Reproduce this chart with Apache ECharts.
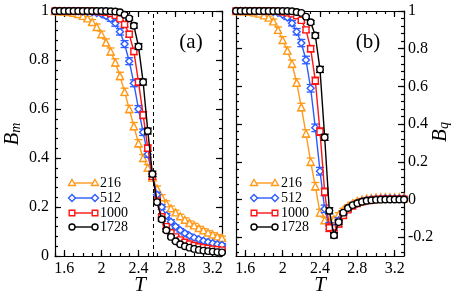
<!DOCTYPE html>
<html>
<head>
<meta charset="utf-8">
<script src="https://cdn.jsdelivr.net/npm/echarts@6/dist/echarts.min.js"></script>
<style>
html,body{margin:0;padding:0;background:#fff;}
#chart{width:458px;height:298px;}
</style>
</head>
<body>
<div id="chart"></div>
<script>
// ---------- data ----------
var T = [1.50,1.55,1.60,1.65,1.70,1.75,1.80,1.85,1.90,1.95,2.00,2.05,2.10,2.15,2.20,2.25,2.30,2.35,2.40,2.45,2.50,2.55,2.60,2.65,2.70,2.75,2.80,2.85,2.90,2.95,3.00,3.05,3.10,3.15,3.20,3.25,3.30];

var sizes = ['216','512','1000','1728'];

var Bm216  = [1.000,0.999,0.998,0.996,0.993,0.988,0.980,0.970,0.955,0.935,0.905,0.872,0.835,0.790,0.735,0.670,0.600,0.530,0.460,0.400,0.360,0.320,0.275,0.240,0.215,0.195,0.178,0.162,0.148,0.135,0.125,0.114,0.105,0.096,0.088,0.080,0.074];
var Bm512  = [1.000,1.000,1.000,1.000,1.000,0.999,0.998,0.997,0.995,0.992,0.988,0.980,0.968,0.950,0.915,0.865,0.795,0.705,0.600,0.505,0.415,0.325,0.250,0.200,0.165,0.140,0.120,0.105,0.093,0.083,0.075,0.068,0.062,0.057,0.052,0.048,0.045];
var Bm1000 = [1.000,1.000,1.000,1.000,1.000,1.000,1.000,0.999,0.999,0.998,0.997,0.995,0.990,0.982,0.968,0.945,0.905,0.835,0.710,0.575,0.440,0.325,0.225,0.160,0.120,0.095,0.078,0.066,0.056,0.049,0.043,0.038,0.034,0.031,0.028,0.026,0.024];
var Bm1728 = [1.000,1.000,1.000,1.000,1.000,1.000,1.000,1.000,1.000,1.000,1.000,1.000,0.999,0.998,0.995,0.985,0.970,0.940,0.855,0.710,0.510,0.335,0.220,0.150,0.105,0.078,0.060,0.048,0.040,0.034,0.029,0.025,0.022,0.020,0.018,0.016,0.015];

var Bq216  = [1.000,0.999,0.998,0.996,0.992,0.986,0.977,0.965,0.945,0.900,0.846,0.790,0.720,0.620,0.490,0.350,0.200,0.070,-0.070,-0.110,-0.120,-0.105,-0.080,-0.055,-0.035,-0.020,-0.008,0.000,0.005,0.008,0.010,0.011,0.012,0.012,0.012,0.012,0.012];
var Bq512  = [1.000,1.000,1.000,1.000,1.000,1.000,0.999,0.998,0.995,0.990,0.980,0.965,0.935,0.890,0.830,0.740,0.590,0.380,0.150,-0.050,-0.140,-0.150,-0.110,-0.075,-0.050,-0.032,-0.020,-0.010,-0.004,0.000,0.003,0.004,0.005,0.005,0.005,0.005,0.005];
var Bq1000 = [1.000,1.000,1.000,1.000,1.000,1.000,1.000,1.000,0.999,0.998,0.995,0.990,0.985,0.975,0.950,0.900,0.800,0.630,0.360,0.040,-0.150,-0.180,-0.130,-0.085,-0.055,-0.035,-0.022,-0.013,-0.007,-0.003,0.000,0.001,0.002,0.002,0.002,0.002,0.002];
var Bq1728 = [1.000,1.000,1.000,1.000,1.000,1.000,1.000,1.000,1.000,1.000,1.000,1.000,0.999,0.995,0.990,0.970,0.940,0.870,0.690,0.330,-0.060,-0.190,-0.120,-0.070,-0.045,-0.030,-0.020,-0.012,-0.007,-0.004,-0.002,-0.001,0.000,0.000,0.000,0.000,0.000];

// error bars (half-widths)
var eBm216  = [0,0,0,0,0,0.004,0.006,0.008,0.010,0.012,0.013,0.014,0.014,0.015,0.015,0.015,0.015,0.015,0.015,0.014,0.013,0.012,0.011,0.010,0.010,0.009,0.009,0.008,0.008,0.008,0.008,0.007,0.007,0.007,0.007,0.007,0.007];
var eBm512  = [0,0,0,0,0,0,0,0,0,0.004,0.006,0.008,0.010,0.012,0.013,0.014,0.014,0.014,0.014,0.013,0.012,0.011,0.010,0.009,0.008,0.008,0.007,0.007,0.007,0.006,0.006,0.006,0.006,0.006,0.006,0.006,0.006];
var eBm1000 = [0,0,0,0,0,0,0,0,0,0,0,0,0,0.004,0.007,0.010,0.012,0.013,0.014,0.014,0.013,0.012,0.010,0.009,0.008,0.007,0.006,0.006,0.005,0.005,0.005,0.005,0.005,0.005,0.005,0.005,0.005];
var eBm1728 = [0,0,0,0,0,0,0,0,0,0,0,0,0,0,0,0.004,0.007,0.010,0.012,0.012,0.012,0.011,0.010,0.008,0.006,0.005,0.004,0.004,0.004,0.004,0.004,0.004,0.004,0.004,0.004,0.004,0.004];

var eBq216  = [0,0,0,0,0,0,0.006,0.008,0.012,0.015,0.018,0.019,0.020,0.020,0.020,0.020,0.020,0.020,0.018,0.016,0.014,0.012,0.010,0.008,0.007,0.006,0.005,0.005,0.004,0.004,0.004,0.004,0.004,0.004,0.004,0.004,0.004];
var eBq512  = [0,0,0,0,0,0,0,0,0,0,0.006,0.010,0.014,0.017,0.019,0.020,0.020,0.020,0.020,0.020,0.018,0.016,0.013,0.010,0.008,0.007,0.006,0.005,0.004,0.004,0.004,0.004,0.004,0.004,0.004,0.004,0.004];
var eBq1000 = [0,0,0,0,0,0,0,0,0,0,0,0,0,0.006,0.010,0.014,0.017,0.019,0.020,0.020,0.020,0.018,0.015,0.012,0.009,0.007,0.006,0.005,0.004,0.004,0.003,0.003,0.003,0.003,0.003,0.003,0.003];
var eBq1728 = [0,0,0,0,0,0,0,0,0,0,0,0,0,0,0,0.006,0.010,0.014,0.016,0.016,0.016,0.014,0.012,0.010,0.008,0.006,0.005,0.004,0.003,0.003,0.003,0.003,0.003,0.003,0.003,0.003,0.003];

var Tc = 2.555;

// tick values
var xMajor = [1.6,2.0,2.4,2.8,3.2];
var xMinor = [1.5,1.6,1.7,1.8,1.9,2.0,2.1,2.2,2.3,2.4,2.5,2.6,2.7,2.8,2.9,3.0,3.1,3.2,3.3];
var ymMajor = [0,0.2,0.4,0.6,0.8,1];
var ymMinor = [0,0.04,0.08,0.12,0.16,0.2,0.24,0.28,0.32,0.36,0.4,0.44,0.48,0.52,0.56,0.6,0.64,0.68,0.72,0.76,0.8,0.84,0.88,0.92,0.96,1];
var yqMajor = [-0.2,0,0.2,0.4,0.6,0.8,1];
var yqMinor = [-0.28,-0.24,-0.2,-0.16,-0.12,-0.08,-0.04,0,0.04,0.08,0.12,0.16,0.2,0.24,0.28,0.32,0.36,0.4,0.44,0.48,0.52,0.56,0.6,0.64,0.68,0.72,0.76,0.8,0.84,0.88,0.92,0.96,1];

// ---------- styling ----------
var FONT = 'Liberation Serif';
var colors = ['#ff9a1a','#2b5cff','#ff1414','#000000'];
var symbols = ['triangle','diamond','rect','circle'];
var symSizes = [7,7,6,6.5];

function pairs(ys){ return T.map(function(t,i){ return [t, ys[i]]; }); }
function triples(ys, es){ return T.map(function(t,i){ return [t, ys[i], es[i]]; }); }

function xAx(grid, pos, major, show){
  return {
    type:'value', gridIndex:grid, position:pos, min:1.5, max:3.3,
    axisLine:{show:show, onZero:false, lineStyle:{color:'#000', width:1.2}},
    axisTick:{show:true, inside:true, length: major?6:3, customValues: major?xMajor:xMinor, lineStyle:{color:'#000', width:1.2}},
    axisLabel:{show: major && pos==='bottom', customValues:xMajor, margin:5, color:'#000', fontFamily:FONT, fontSize:16},
    splitLine:{show:false}
  };
}
function yAx(grid, pos, major, show, min, max, maj, mino, labels){
  return {
    type:'value', gridIndex:grid, position:pos, min:min, max:max,
    axisLine:{show:show, onZero:false, lineStyle:{color:'#000', width:1.2}},
    axisTick:{show:true, inside:true, length: major?6:3, customValues: major?maj:mino, lineStyle:{color:'#000', width:1.2}},
    axisLabel:{show: labels, customValues:maj, margin: pos==='left'?6:4, color:'#000', fontFamily:FONT, fontSize:16},
    splitLine:{show:false}
  };
}

var xAxes = [
  xAx(0,'bottom',true,true), xAx(0,'bottom',false,false), xAx(0,'top',true,true), xAx(0,'top',false,false),
  xAx(1,'bottom',true,true), xAx(1,'bottom',false,false), xAx(1,'top',true,true), xAx(1,'top',false,false)
];
var yAxes = [
  yAx(0,'left',true,true,0,1,ymMajor,ymMinor,true), yAx(0,'left',false,false,0,1,ymMajor,ymMinor,false),
  yAx(0,'right',true,true,0,1,ymMajor,ymMinor,false), yAx(0,'right',false,false,0,1,ymMajor,ymMinor,false),
  yAx(1,'left',true,true,-0.3,1,yqMajor,yqMinor,false), yAx(1,'left',false,false,-0.3,1,yqMajor,yqMinor,false),
  yAx(1,'right',true,true,-0.3,1,yqMajor,yqMinor,true), yAx(1,'right',false,false,-0.3,1,yqMajor,yqMinor,false)
];

var BmSets = [Bm216, Bm512, Bm1000, Bm1728];
var BqSets = [Bq216, Bq512, Bq1000, Bq1728];
var eBmSets = [eBm216, eBm512, eBm1000, eBm1728];
var eBqSets = [eBq216, eBq512, eBq1000, eBq1728];

function errSeries(k, xi, yi, ys, es){
  var c = colors[k];
  return {
    type:'custom', xAxisIndex:xi, yAxisIndex:yi, data:triples(ys, es), clip:false, silent:true,
    encode:{x:0, y:1}, z:2+k, animation:false,
    renderItem:function(params, api){
      var x = api.value(0), y = api.value(1), e = api.value(2);
      if (!e) return null;
      var a = api.coord([x, y+e]), b = api.coord([x, y-e]);
      var hw = 4;
      var st = {stroke:c, lineWidth:1.3};
      return {type:'group', children:[
        {type:'line', shape:{x1:a[0], y1:a[1], x2:b[0], y2:b[1]}, style:st},
        {type:'line', shape:{x1:a[0]-hw, y1:a[1], x2:a[0]+hw, y2:a[1]}, style:st},
        {type:'line', shape:{x1:b[0]-hw, y1:b[1], x2:b[0]+hw, y2:b[1]}, style:st}
      ]};
    }
  };
}
function lineSeries(k, xi, yi, ys){
  return {
    type:'line', name:sizes[k], xAxisIndex:xi, yAxisIndex:yi, data:pairs(ys),
    symbol:symbols[k], symbolSize:symSizes[k], showAllSymbol:true, clip:false, animation:false,
    lineStyle:{color:colors[k], width:1.4},
    itemStyle:{color:'#fff', borderColor:colors[k], borderWidth:1.4},
    z:2+k
  };
}

var series = [];
BmSets.forEach(function(ys, k){
  series.push(errSeries(k, 0, 0, ys, eBmSets[k]));
  var s = lineSeries(k, 0, 0, ys);
  if (k === 3) {
    s.markLine = {
      silent:true, symbol:['none','none'], animation:false,
      label:{show:false},
      lineStyle:{color:'#000', width:1, type:[4,3]},
      data:[{xAxis:Tc}]
    };
  }
  series.push(s);
});
BqSets.forEach(function(ys, k){
  series.push(errSeries(k, 4, 6, ys, eBqSets[k]));
  series.push(lineSeries(k, 4, 6, ys));
});

// ---------- legends & labels as graphics ----------
var graphics = [];
function marker(k, cx, cy){
  var st = {fill:'#fff', stroke:colors[k], lineWidth:1.4};
  if (k===0) return {type:'polygon', shape:{points:[[cx,cy-3.5],[cx+3.5,cy+2.5],[cx-3.5,cy+2.5]]}, style:st, z:10};
  if (k===1) return {type:'polygon', shape:{points:[[cx,cy-3.5],[cx+3.5,cy],[cx,cy+3.5],[cx-3.5,cy]]}, style:st, z:10};
  if (k===2) return {type:'rect', shape:{x:cx-2.8,y:cy-2.8,width:5.6,height:5.6}, style:st, z:10};
  return {type:'circle', shape:{cx:cx, cy:cy, r:3}, style:st, z:10};
}
var legendRows = [183,198,213,227];
[[72,95,100],[254,275,281]].forEach(function(p){
  sizes.forEach(function(lbl,k){
    var y = legendRows[k];
    graphics.push({type:'line', shape:{x1:p[0], y1:y, x2:p[1], y2:y}, style:{stroke:colors[k], lineWidth:1.4}, z:9});
    graphics.push(marker(k,p[0],y));
    graphics.push(marker(k,p[1],y));
    graphics.push({type:'text', x:p[2], y:y, style:{text:lbl, font:'14px "Liberation Serif"', fill:'#000', align:'left', verticalAlign:'middle'}, z:10});
  });
});
var richName = {
  b:{fontFamily:FONT, fontStyle:'italic', fontSize:21, lineHeight:22, fill:'#000'},
  s:{fontFamily:FONT, fontStyle:'italic', fontSize:14, lineHeight:6, verticalAlign:'bottom', fill:'#000'}
};
graphics.push({type:'text', x:12, y:134, rotation:Math.PI/2, style:{text:'{b|B}{s|m}', rich:richName, align:'center', verticalAlign:'middle'}});
graphics.push({type:'text', x:440, y:132, rotation:Math.PI/2, style:{text:'{b|B}{s|q}', rich:richName, align:'center', verticalAlign:'middle'}});
graphics.push({type:'text', x:140, y:285, style:{text:'T', font:'italic 21px "Liberation Serif"', fill:'#000', align:'center', verticalAlign:'middle'}});
graphics.push({type:'text', x:320, y:285, style:{text:'T', font:'italic 21px "Liberation Serif"', fill:'#000', align:'center', verticalAlign:'middle'}});
graphics.push({type:'text', x:191, y:42, style:{text:'(a)', font:'21px "Liberation Serif"', fill:'#000', align:'center', verticalAlign:'middle'}});
graphics.push({type:'text', x:368, y:42, style:{text:'(b)', font:'21px "Liberation Serif"', fill:'#000', align:'center', verticalAlign:'middle'}});

var chart = echarts.init(document.getElementById('chart'), null, {renderer:'canvas'});
chart.setOption({
  animation:false,
  backgroundColor:'#fff',
  grid:[{left:55, top:11, width:167, height:245}, {left:236, top:11, width:168, height:245}],
  xAxis:xAxes,
  yAxis:yAxes,
  series:series,
  graphic:graphics
});
</script>
</body>
</html>
